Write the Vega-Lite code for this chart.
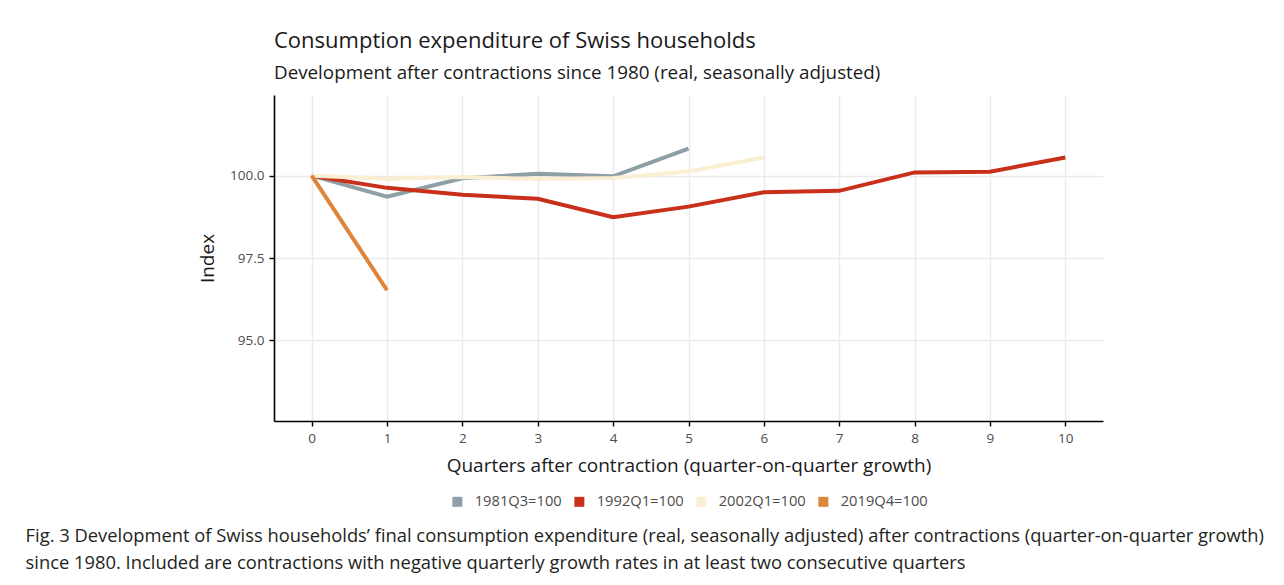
{
  "$schema": "https://vega.github.io/schema/vega-lite/v6.json",
  "background": "white",
  "padding": {"left": 25, "top": 30, "right": 10, "bottom": 10},
  "title": {
    "text": ["Fig. 3 Development of Swiss households’ final consumption expenditure (real, seasonally adjusted) after contractions (quarter-on-quarter growth)", "since 1980. Included are contractions with negative quarterly growth rates in at least two consecutive quarters"],
    "orient": "bottom",
    "anchor": "start",
    "frame": "bounds",
    "dx": -173,
    "offset": 19,
    "font": "Open Sans",
    "fontSize": 18.35,
    "fontWeight": "normal",
    "color": "#231f20",
    "lineHeight": 27
  },
  "vconcat": [
    {
      "width": 829,
      "height": 326,
      "title": {
        "text": "Consumption expenditure of Swiss households",
        "subtitle": "Development after contractions since 1980 (real, seasonally adjusted)",
        "anchor": "start",
        "frame": "group",
        "font": "Open Sans",
        "subtitleFont": "Open Sans",
        "fontSize": 22,
        "subtitleFontSize": 18.8,
        "fontWeight": "normal",
        "color": "#1a1a1a",
        "subtitleColor": "#1a1a1a",
        "offset": 11,
        "subtitlePadding": 11
      },
      "data": {
        "values": [
          {"series": "1981Q3=100", "q": 0, "index": 100.0},
          {"series": "1981Q3=100", "q": 1, "index": 99.36},
          {"series": "1981Q3=100", "q": 2, "index": 99.92},
          {"series": "1981Q3=100", "q": 3, "index": 100.06},
          {"series": "1981Q3=100", "q": 4, "index": 99.98},
          {"series": "1981Q3=100", "q": 5, "index": 100.82},
          {"series": "1992Q1=100", "q": 0, "index": 100.0},
          {"series": "1992Q1=100", "q": 1, "index": 99.63},
          {"series": "1992Q1=100", "q": 2, "index": 99.42},
          {"series": "1992Q1=100", "q": 3, "index": 99.3},
          {"series": "1992Q1=100", "q": 4, "index": 98.74},
          {"series": "1992Q1=100", "q": 5, "index": 99.06},
          {"series": "1992Q1=100", "q": 6, "index": 99.5},
          {"series": "1992Q1=100", "q": 7, "index": 99.54},
          {"series": "1992Q1=100", "q": 8, "index": 100.1},
          {"series": "1992Q1=100", "q": 9, "index": 100.12},
          {"series": "1992Q1=100", "q": 10, "index": 100.55},
          {"series": "2002Q1=100", "q": 0, "index": 100.0},
          {"series": "2002Q1=100", "q": 1, "index": 99.91},
          {"series": "2002Q1=100", "q": 2, "index": 99.96},
          {"series": "2002Q1=100", "q": 3, "index": 99.9},
          {"series": "2002Q1=100", "q": 4, "index": 99.93},
          {"series": "2002Q1=100", "q": 5, "index": 100.13},
          {"series": "2002Q1=100", "q": 6, "index": 100.55},
          {"series": "2019Q4=100", "q": 0, "index": 100.0},
          {"series": "2019Q4=100", "q": 1, "index": 96.52}
        ]
      },
      "mark": {"type": "line", "strokeWidth": 4, "clip": false},
      "encoding": {
        "x": {
          "field": "q",
          "type": "quantitative",
          "scale": {"domain": [-0.5, 10.5], "nice": false, "zero": false},
          "axis": {
            "values": [0, 1, 2, 3, 4, 5, 6, 7, 8, 9, 10],
            "format": "d",
            "title": "Quarters after contraction (quarter-on-quarter growth)"
          }
        },
        "y": {
          "field": "index",
          "type": "quantitative",
          "scale": {"domain": [92.55, 102.45], "nice": false, "zero": false},
          "axis": {
            "values": [95, 97.5, 100],
            "format": ".1f",
            "title": "Index"
          }
        },
        "color": {
          "field": "series",
          "type": "nominal",
          "scale": {
            "domain": ["1981Q3=100", "1992Q1=100", "2002Q1=100", "2019Q4=100"],
            "range": ["#8e9fa6", "#c9301a", "#faeed3", "#dd853b"]
          },
          "legend": {
            "orient": "bottom",
            "direction": "horizontal",
            "title": null,
            "symbolType": "square",
            "symbolSize": 100,
            "symbolStrokeWidth": 0,
            "labelFont": "Open Sans",
            "labelFontSize": 14.7,
            "labelColor": "#4d4d4d",
            "columnPadding": 10,
            "labelOffset": 10,
            "offset": 18,
            "encode": {
              "symbols": {
                "update": {
                  "fill": {"scale": "color", "field": "value"},
                  "stroke": {"value": "transparent"}
                }
              }
            }
          }
        }
      }
    }
  ],
  "config": {
    "view": {"stroke": null},
    "legend": {"layout": {"bottom": {"anchor": "middle"}}},
    "axis": {
      "domainColor": "#000000",
      "domainWidth": 1.6,
      "tickColor": "#000000",
      "tickWidth": 1.4,
      "tickSize": 5,
      "labelFont": "Open Sans",
      "labelFontSize": 13.5,
      "labelColor": "#4d4d4d",
      "labelPadding": 5,
      "titleFont": "Open Sans",
      "titleFontSize": 19,
      "titleFontWeight": "normal",
      "titleColor": "#1a1a1a",
      "grid": true,
      "gridColor": "#ebebeb",
      "gridWidth": 1.5
    },
    "axisX": {"titlePadding": 12},
    "axisY": {"titlePadding": 12}
  }
}
